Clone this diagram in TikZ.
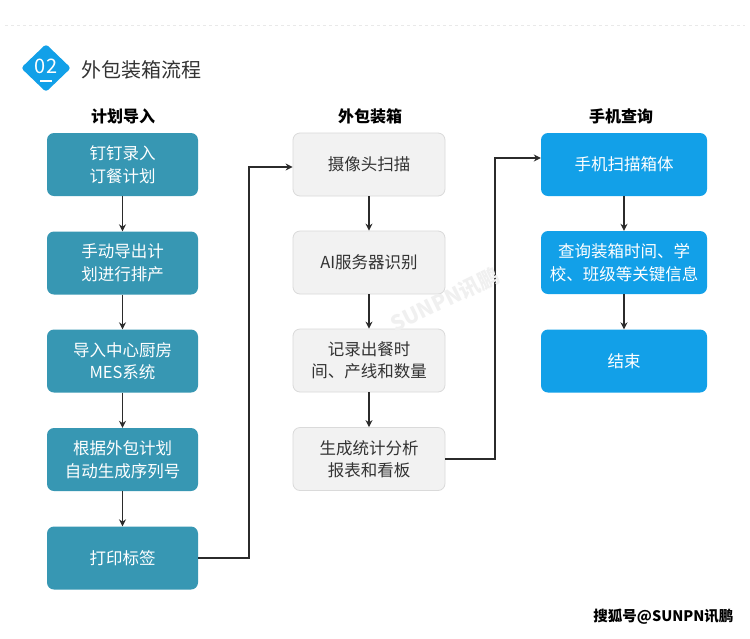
\documentclass[tikz,border=0pt]{standalone}
\usepackage{fontspec}
\setmainfont{Noto Sans CJK SC}
\usetikzlibrary{arrows.meta,positioning,shapes.geometric}
\definecolor{teal}{HTML}{3797B3}
\definecolor{sky}{HTML}{12A0E8}
\definecolor{grayfill}{HTML}{F2F2F2}
\definecolor{grayline}{HTML}{DADADA}
\definecolor{darktext}{HTML}{333333}
\definecolor{arrowc}{HTML}{2B2B2B}
\tikzset{
  box/.style={rounded corners=7pt, minimum height=63pt, align=center, font=\fontsize{16.5}{22.5}\selectfont, inner sep=0pt},
  tealbox/.style={box, fill=teal, text=white, minimum width=151pt},
  graybox/.style={box, fill=grayfill, draw=grayline, line width=0.8pt, text=darktext, minimum width=152pt},
  bluebox/.style={box, fill=sky, text=white, minimum width=166pt},
  header/.style={font=\fontsize{16}{18}\selectfont\bfseries, text=black},
  conn/.style={draw=arrowc, line width=1.3pt, -{Stealth[length=7pt,width=7pt]}},
}
\begin{document}
\begin{tikzpicture}[x=1pt,y=-1pt]
\useasboundingbox (0,0) rectangle (750,638);
\fill[white] (0,0) rectangle (750,638);
\draw[grayline!60, line width=1pt, dash pattern=on 3pt off 3pt] (5,25) -- (745,25);
% badge
\node[diamond, fill=sky, minimum width=50pt, minimum height=48pt, inner sep=0pt, rounded corners=3pt] (badge) at (46,68) {};
\node[text=white, font=\fontsize{20}{21}\selectfont, inner sep=0pt] (num) at (46,66) {02};
\draw[white, line width=1.2pt] (40,81) -- (52,81);
\node[anchor=west, font=\fontsize{20}{22}\selectfont, text=darktext] (title) at (78,70) {外包装箱流程};
% headers
\node[header] (h1) at (123,116) {计划导入};
\node[header] (h2) at (370,116) {外包装箱};
\node[header] (h3) at (621,116) {手机查询};
% left column
\node[tealbox] (a1) at (122.5,164.5) {钉钉录入\\订餐计划};
\node[tealbox] (a2) at (122.5,263) {手动导出计\\划进行排产};
\node[tealbox] (a3) at (122.5,361) {导入中心厨房\\MES系统};
\node[tealbox] (a4) at (122.5,459.5) {根据外包计划\\自动生成序列号};
\node[tealbox] (a5) at (122.5,558) {打印标签};
% middle column
\node[graybox] (b1) at (369,164.5) {摄像头扫描};
\node[graybox] (b2) at (369,262.5) {AI服务器识别};
\node[graybox] (b3) at (369,360.5) {记录出餐时\\间、产线和数量};
\node[graybox] (b4) at (369,459) {生成统计分析\\报表和看板};
% right column
\node[bluebox] (c1) at (624,164.5) {手机扫描箱体};
\node[bluebox] (c2) at (624,262.5) {查询装箱时间、学\\校、班级等关键信息};
\node[bluebox] (c3) at (624,361) {结束};
% vertical arrows
\foreach \u/\v in {a1/a2,a2/a3,a3/a4,a4/a5,b1/b2,b2/b3,b3/b4,c1/c2,c2/c3}
  \draw[conn] (\u.south) -- (\v.north);
% cross connectors
\coordinate (k1) at (249,558);
\coordinate (k2) at (249,167);
\draw[conn] (a5.east) -- (k1) -- (k2) -- (b1.west |- k2);
\coordinate (m1) at (495,459);
\coordinate (m2) at (495,158);
\draw[conn] (b4.east) -- (m1) -- (m2) -- (c1.west |- m2);
% watermark
\node[rotate=26, text=black!6, font=\fontsize{21}{23}\selectfont\bfseries, inner sep=0pt] (wm) at (445,300) {SUNPN讯鹏};
% footer
\node[anchor=east, font=\fontsize{14.5}{16}\selectfont\bfseries, text=black] (foot) at (737,617) {搜狐号@SUNPN讯鹏};
\end{tikzpicture}
\end{document}
